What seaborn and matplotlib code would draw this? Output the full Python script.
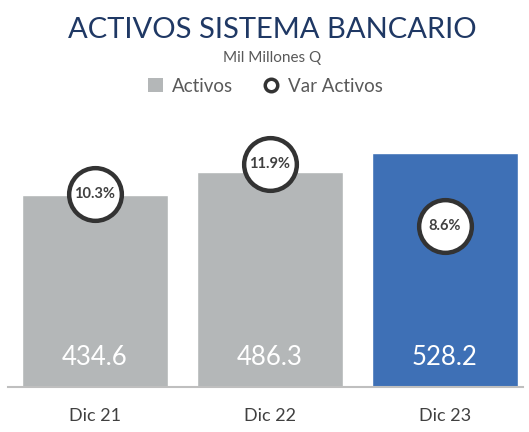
import matplotlib
matplotlib.use("Agg")
import matplotlib.pyplot as plt
import seaborn as sns
import pandas as pd
from matplotlib.patches import Patch
from matplotlib.lines import Line2D

# data
categories = ["Dic 21", "Dic 22", "Dic 23"]
activos = [434.6, 486.3, 528.2]
var_activos = [10.3, 11.9, 8.6]
bar_colors = ["#B4B7B8", "#B4B7B8", "#3E70B6"]

sns.set_style("white")
plt.rcParams["font.family"] = ["Lato", "DejaVu Sans"]

df = pd.DataFrame({"periodo": categories, "activos": activos, "var": var_activos})

fig = plt.figure(figsize=(5.29, 4.32), dpi=100)
W, H = 529, 432
ax = fig.add_axes([8 / W, (H - 387) / H, 515 / W, 277 / H])

sns.barplot(data=df, x="periodo", y="activos", hue="periodo",
            palette=bar_colors, width=0.834, legend=False, saturation=1, ax=ax)
ax.set_xlim(-0.497, 2.446)
ax.set_ylim(0, 626)

# value labels inside the bars
for i, v in enumerate(activos):
    ax.text(i, 66, f"{v:.1f}", ha="center", va="center",
            color="white", fontsize=18.5)

ax2 = ax.twinx()
sns.scatterplot(data=df, x="periodo", y="var", marker="o", s=1440,
                color="white", edgecolor="#333333", linewidth=3.2,
                zorder=3, ax=ax2)
ax2.set_ylim(0, 14.77)
for i, v in enumerate(var_activos):
    ax2.text(i, v, f"{v}%", ha="center", va="center",
             fontsize=10.5, fontweight="bold", color="#404040", zorder=4)

for a in (ax, ax2):
    for s in ["top", "right", "left"]:
        a.spines[s].set_visible(False)
    a.set_yticks([])
    a.set_ylabel("")
    a.set_xlabel("")
ax2.spines["bottom"].set_visible(False)
ax.spines["bottom"].set_color("#BFBFBF")
ax.spines["bottom"].set_linewidth(1.5)
ax.tick_params(axis="x", length=0, pad=15, labelsize=13, labelcolor="#404040")

# title block
fig.text(272 / W, 1 - 30 / H, "ACTIVOS SISTEMA BANCARIO", ha="center", va="center",
         fontsize=21, color="#1F3864")
fig.text(272 / W, 1 - 58 / H, "Mil Millones Q", ha="center", va="center",
         fontsize=11, color="#595959")

handles = [
    Patch(facecolor="#B4B7B8", edgecolor="none", label="Activos"),
    Line2D([], [], marker="o", linestyle="none", markersize=9,
           markerfacecolor="white", markeredgecolor="#333333",
           markeredgewidth=2.5, label="Var Activos"),
]
fig.legend(handles=handles, loc="center", bbox_to_anchor=(265 / W, 1 - 86 / H),
           ncol=2, frameon=False, fontsize=13.5, labelcolor="#595959",
           handlelength=0.8, handleheight=0.8, handletextpad=0.5, columnspacing=1.6)

fig.savefig("out.png", dpi=100)
